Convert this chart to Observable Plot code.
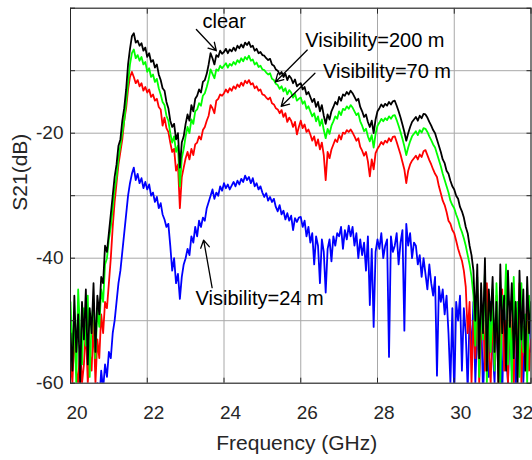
<!DOCTYPE html>
<html><head><meta charset="utf-8">
<script src="https://cdn.jsdelivr.net/npm/d3@7"></script>
<script src="https://cdn.jsdelivr.net/npm/@observablehq/plot@0.6"></script>
<style>html,body{margin:0;padding:0;background:#fff;overflow:hidden}</style>
</head><body><div id="chart"></div>
<script>
// Frequency sampling (GHz): 20.00 .. 32.00, step 0.05
const freqStart = 20, freqStep = 0.05;

// S21 (dB), one row per GHz (20 samples) + final value at 32 GHz
const clearDb = [
-52,-58,-46,-55,-49,-60,-47,-53,-45,-57,-48,-52,-44,-55,-46,-49,-43,-44,-38,-39,
-36,-33,-30,-27,-25,-22,-21,-18,-16,-13,-9,-6.5,-4.5,-4.0,-5.5,-5.2,-6.0,-5.6,-6.8,-6.3,
-7.8,-7.2,-8.6,-8.3,-9.5,-9.0,-10.6,-11.5,-12.8,-13.2,-15.0,-16.0,-18.0,-19.0,-18.5,-21.0,-20.0,-25.5,-21.5,-20.5,
-18.5,-17.0,-18.0,-15.5,-16.5,-14.5,-14.0,-13.0,-13.5,-11.8,-11.5,-10.5,-9.0,-7.2,-8.0,-9.0,-7.5,-7.8,-6.8,-7.3,
-7.0,-6.5,-7.2,-6.6,-6.9,-6.3,-6.8,-6.0,-6.4,-5.8,-6.3,-5.5,-5.9,-5.4,-6.2,-6.0,-6.8,-6.5,-7.2,-7.0,
-7.5,-7.6,-8.0,-8.3,-8.1,-9.0,-9.2,-9.8,-10.0,-10.6,-10.2,-11.0,-10.5,-11.5,-10.8,-11.2,-12.0,-11.4,-12.5,-12.2,
-12.0,-13.0,-12.6,-13.8,-13.4,-14.2,-15.0,-14.5,-15.8,-15.0,-16.5,-15.5,-17.2,-18.5,-17.0,-17.8,-16.5,-15.8,-15.0,-15.4,
-14.2,-14.8,-13.8,-14.0,-13.4,-13.8,-13.2,-13.6,-14.2,-14.8,-14.5,-15.8,-16.5,-17.4,-17.0,-18.2,-19.0,-18.0,-20.0,-17.8,
-16.5,-16.0,-15.4,-15.8,-15.3,-15.6,-15.0,-15.4,-14.9,-14.8,-15.6,-16.5,-17.5,-18.6,-19.8,-21.2,-20.0,-19.0,-18.2,-17.8,
-17.4,-18.0,-17.2,-17.6,-16.9,-17.0,-17.5,-18.2,-18.8,-19.5,-20.0,-21.0,-22.0,-23.0,-24.2,-24.8,-26.0,-26.5,-27.6,-28.5,
-29.0,-30.0,-30.5,-31.8,-32.5,-33.5,-35.0,-36.0,-38.0,-39.5,-42,-50,-41,-56,-44,-52,-40,-58,-45,-50,
-43,-55,-47,-60,-41,-52,-46,-58,-42,-51,-44,-56,-47,-60,-42,-53,-45,-58,-43,-52,
-47];

const vis200Db = [
-47,-55,-50,-60,-45,-52,-57,-48,-54,-46,-59,-50,-47,-56,-48,-51,-45,-47,-41,-40,
-37,-35,-32,-29,-27,-24,-22,-20,-18,-15,-12,-9.0,-7.2,-6.6,-8.0,-7.5,-8.4,-7.8,-9.0,-8.6,
-10.2,-9.6,-11.0,-10.6,-11.8,-11.3,-12.8,-13.8,-15.0,-15.5,-17.2,-18.0,-20.0,-21.5,-20.5,-23.0,-22.0,-28.5,-24.0,-22.5,
-20.5,-19.0,-20.0,-17.8,-18.5,-16.5,-16.2,-15.2,-15.6,-14.0,-13.6,-12.6,-11.4,-9.8,-10.5,-11.2,-9.8,-10.0,-9.2,-9.6,
-9.2,-8.8,-9.5,-8.9,-9.2,-8.6,-9.0,-8.3,-8.7,-8.0,-8.5,-7.8,-8.2,-7.6,-8.4,-8.2,-9.0,-8.7,-9.4,-9.2,
-9.8,-9.9,-10.3,-10.6,-10.4,-11.3,-11.5,-12.1,-12.3,-12.9,-12.5,-13.3,-12.8,-13.8,-13.1,-13.5,-14.3,-13.7,-14.8,-14.5,
-14.3,-15.3,-14.9,-16.1,-15.7,-16.5,-17.3,-16.8,-18.1,-17.3,-18.8,-17.8,-19.5,-20.8,-19.3,-20.1,-18.8,-18.1,-17.3,-17.7,
-16.5,-17.1,-16.1,-16.3,-15.7,-16.1,-15.5,-15.9,-16.5,-17.1,-16.8,-18.1,-18.8,-19.7,-19.3,-20.5,-21.3,-20.3,-22.3,-20.1,
-18.8,-18.3,-17.7,-18.1,-17.6,-17.9,-17.3,-17.7,-17.2,-17.1,-17.9,-18.8,-19.8,-20.9,-22.1,-23.5,-22.3,-21.3,-20.5,-20.1,
-19.7,-20.3,-19.5,-19.9,-19.2,-19.3,-19.8,-20.5,-21.1,-21.8,-22.3,-23.3,-24.3,-25.3,-26.5,-27.5,-28.5,-29.5,-30.8,-31.5,
-32.0,-33.0,-33.8,-35.0,-35.8,-36.8,-38.0,-39.5,-41.0,-43.0,-46,-54,-43,-59,-48,-53,-42,-60,-47,-55,
-45,-58,-44,-52,-60,-46,-50,-41,-57,-48,-60,-43,-53,-47,-59,-44,-55,-49,-60,-46,
-50];

const vis70Db = [
-56,-60,-52,-58,-60,-54,-60,-57,-51,-60,-55,-58,-50,-60,-53,-56,-49,-52,-47,-48,
-44,-40,-35,-31,-28,-25,-23,-21,-18,-16,-13,-11,-10.2,-11.0,-12.0,-11.5,-12.5,-12.0,-13.2,-12.6,
-13.5,-13.0,-14.2,-13.8,-14.8,-14.5,-15.8,-16.2,-18.8,-17.5,-19.2,-19.8,-21.5,-23.0,-22.5,-26.0,-25.0,-32.0,-27.0,-25.5,
-24.0,-23.0,-24.2,-22.5,-23.5,-21.8,-21.5,-20.5,-21.0,-19.5,-19.0,-18.0,-17.2,-15.5,-16.0,-16.8,-14.8,-14.5,-13.8,-14.0,
-13.6,-13.0,-13.5,-12.8,-13.2,-12.5,-12.9,-12.2,-12.6,-11.9,-12.4,-11.6,-12.0,-11.5,-12.2,-12.0,-12.8,-12.5,-13.2,-13.0,
-13.8,-13.9,-14.3,-14.6,-14.3,-15.2,-15.4,-16.0,-16.2,-16.8,-16.3,-17.4,-16.8,-18.2,-17.5,-18.0,-19.0,-18.2,-20.2,-19.0,
-18.0,-19.2,-18.6,-19.8,-19.4,-20.2,-21.2,-20.5,-22.0,-21.0,-22.6,-21.5,-23.5,-27.5,-23.0,-24.0,-22.6,-21.8,-21.0,-21.4,
-20.3,-21.0,-19.9,-20.1,-19.5,-19.8,-19.4,-19.9,-20.5,-21.2,-20.8,-22.2,-22.8,-23.6,-23.0,-24.5,-26.9,-24.2,-25.8,-23.2,
-22.5,-22.0,-21.4,-21.8,-21.2,-21.5,-20.8,-21.3,-20.6,-20.5,-21.4,-22.4,-23.4,-24.6,-25.8,-28.0,-26.0,-25.0,-24.4,-24.0,
-23.6,-24.2,-23.4,-23.8,-22.9,-22.7,-23.5,-24.3,-25.0,-25.8,-26.5,-27.0,-28.5,-29.6,-30.8,-31.5,-32.6,-34.0,-34.5,-35.5,
-36.0,-37.2,-38.5,-39.5,-40.4,-42.0,-44.6,-52,-47,-60,-50,-56,-45,-60,-52,-48,-58,-44,-55,-60,
-49,-57,-46,-60,-52,-45,-58,-50,-60,-47,-54,-60,-48,-56,-44,-60,-51,-57,-46,-58,
-53];

const vis24Db = [
-62,-65,-63,-66,-62,-64,-65,-63,-61,-66,-63,-64,-62,-65,-60,-63,-58,-61,-57,-59,
-55,-56,-52,-50,-47,-44,-42,-39,-36,-33,-30,-28,-26.5,-25.5,-27.5,-26.5,-28.0,-27.2,-28.8,-27.8,
-29.0,-28.2,-30.0,-29.5,-31.0,-30.2,-32.0,-31.2,-33.0,-33.8,-35.0,-34.5,-38.0,-42.0,-40.0,-44.0,-42.5,-46.5,-43.0,-41.0,
-40.0,-38.5,-39.5,-36.5,-37.5,-35.0,-36.5,-34.0,-35.0,-33.5,-34.0,-32.0,-31.0,-30.0,-29.0,-30.5,-29.5,-30.0,-28.5,-29.2,
-28.0,-28.8,-28.2,-29.0,-28.4,-27.8,-28.5,-27.6,-28.2,-27.3,-27.8,-26.8,-27.5,-27.0,-28.0,-27.2,-28.5,-28.0,-29.0,-28.5,
-29.5,-30.2,-29.6,-30.8,-30.2,-31.0,-30.5,-31.8,-32.5,-31.5,-33.0,-32.4,-33.8,-32.8,-34.0,-33.2,-35.5,-33.6,-34.2,-33.5,
-33.4,-35.0,-34.0,-36.5,-35.0,-37.5,-36.0,-41.0,-36.5,-38.0,-44.0,-37.0,-39.0,-45.5,-38.5,-37.0,-40.5,-36.5,-38.0,-36.0,
-36.5,-35.0,-38.5,-35.5,-37.0,-34.8,-36.5,-35.0,-38.0,-36.0,-40.0,-37.0,-39.5,-37.5,-42.0,-36.5,-47.5,-38.5,-51.0,-39.0,
-37.0,-38.5,-36.0,-40.0,-38.0,-37.0,-55.8,-36.5,-39.0,-38.0,-36.0,-41.0,-37.5,-35.5,-51.6,-34.5,-38.0,-36.0,-40.0,-37.5,
-38.0,-41.0,-39.5,-43.0,-40.0,-42.5,-45.0,-41.0,-44.0,-46.0,-43.0,-58.8,-44.5,-47.0,-45.0,-49.0,-46.0,-52.0,-60.0,-48.0,
-62,-47,-50,-46,-58,-48,-52,-61,-49,-55,-47,-60,-51,-57,-48,-62,-53,-50,-59,-47,
-54,-60,-49,-57,-52,-62,-48,-55,-60,-50,-58,-47,-61,-53,-56,-49,-60,-52,-57,-48,
-55];

// Axes
const xTicks = [20, 22, 24, 26, 28, 30, 32];
const xTickLabelsMain = [20, 22, 24, 26, 28, 30];
const xTickLabelsEdge = [32];
const yTicks = [-60, -50, -40, -30, -20, -10, 0];
const yTickLabels = [-60, -40, -20];
const xLabel = "Frequency (GHz)";
const yLabel = "S21(dB)";

// Annotations (text anchor in data units) and their arrows (from -> to)
const annotLabels = ["clear", "Visibility=200 m", "Visibility=70 m", "Visibility=24 m"];
const annotFreq = [23.44, 26.12, 26.58, 23.26];
const annotDb = [-2.1, -5.2, -10.2, -46.4];
const arrowFromFreq = [23.28, 26.17, 26.37, 23.69];
const arrowFromDb = [-3.4, -6.7, -10.4, -44.7];
const arrowToFreq = [23.80, 25.34, 25.49, 23.47];
const arrowToDb = [-6.8, -11.8, -15.7, -37.1];

const freqs = clearDb.map((_, i) => +(freqStart + i * freqStep).toFixed(2));
const toRows = vals => vals.map((v, i) => ({f: freqs[i], db: v}));

const series = [
  {values: vis24Db, color: "#0000ff"},
  {values: vis70Db, color: "#ff0000"},
  {values: vis200Db, color: "#00ff00"},
  {values: clearDb, color: "#000000"}
];

const gridColor = "#a8a8a8";
const axisColor = "#262626";

const chart = Plot.plot({
  width: 532,
  height: 460,
  marginLeft: 70,
  marginRight: 1.5,
  marginTop: 7.7,
  marginBottom: 77.3,
  x: {domain: [20, 32]},
  y: {domain: [-60, 0]},
  style: {fontFamily: "'Liberation Sans', Arial, Helvetica, sans-serif", fontSize: "19px", color: axisColor, background: "#fff"},
  marks: [
    Plot.ruleX(xTicks, {stroke: gridColor, strokeWidth: 1}),
    Plot.ruleY(yTicks, {stroke: gridColor, strokeWidth: 1}),
    ...series.map(s => Plot.line(toRows(s.values), {x: "f", y: "db", stroke: s.color, strokeWidth: 1.8, clip: true})),
    Plot.frame({stroke: axisColor, strokeWidth: 1}),
    Plot.axisX({ticks: xTicks, tickSize: -5, tickFormat: () => "", label: null}),
    Plot.axisX({anchor: "top", ticks: xTicks, tickSize: -5, tickFormat: () => "", label: null}),
    Plot.text(xTickLabelsMain, {x: d => d, frameAnchor: "bottom", text: d => String(d), dx: 6.6, dy: 22, lineAnchor: "top", fontSize: 19, fill: axisColor}),
    Plot.text(xTickLabelsEdge, {x: d => d, frameAnchor: "bottom", text: d => String(d), dx: -8.2, dy: 22, lineAnchor: "top", fontSize: 19, fill: axisColor}),
    Plot.axisY({ticks: yTicks, tickSize: -5, tickPadding: 12, tickFormat: d => yTickLabels.includes(d) ? String(d) : "", label: null}),
    Plot.axisY({anchor: "right", ticks: yTicks, tickSize: -5, tickFormat: () => "", label: null}),
    Plot.text([xLabel], {frameAnchor: "bottom", text: d => d, dx: -4, dy: 59.6, lineAnchor: "middle", fontSize: 21, fill: axisColor}),
    Plot.text([yLabel], {frameAnchor: "left", text: d => d, rotate: -90, dx: -50, dy: 15, lineAnchor: "middle", fontSize: 21, fill: axisColor}),
    Plot.arrow(annotLabels, {
      x1: (d, i) => arrowFromFreq[i], y1: (d, i) => arrowFromDb[i],
      x2: (d, i) => arrowToFreq[i], y2: (d, i) => arrowToDb[i],
      stroke: "#000", strokeWidth: 1.3, headLength: 10
    }),
    Plot.text(annotLabels, {
      x: (d, i) => annotFreq[i], y: (d, i) => annotDb[i], text: d => d,
      textAnchor: "start", lineAnchor: "middle", fontSize: 20, fill: "#000"
    })
  ]
});
document.getElementById("chart").appendChild(chart);
</script>
</body></html>
